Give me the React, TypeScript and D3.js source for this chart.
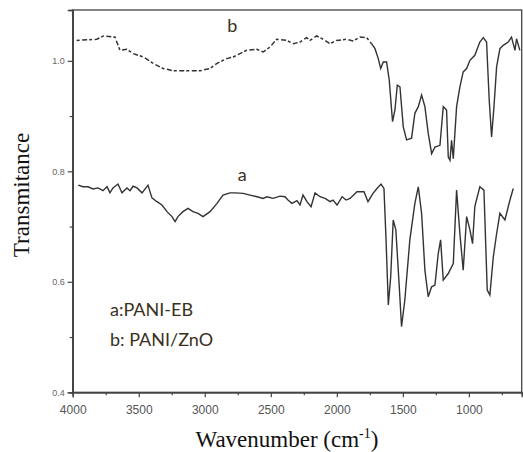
import React, {useRef, useEffect} from 'react'
import * as d3 from 'd3'

// wavenumber (cm-1) and transmittance
const wnB = [3970, 3818, 3768, 3680, 3642, 3591, 3541, 3465, 3389, 3314, 3238, 3137, 3036, 2960, 2910, 2834, 2784, 2683, 2607, 2557, 2506, 2455, 2380, 2330, 2279, 2229, 2203, 2153, 2102, 2052, 2001, 1926, 1875, 1825, 1774, 1737, 1711, 1686, 1668, 1648, 1623, 1603, 1578, 1560, 1542, 1522, 1497, 1472, 1434, 1409, 1383, 1358, 1333, 1308, 1282, 1257, 1219, 1194, 1169, 1156, 1143, 1131, 1118, 1093, 1068, 1043, 1017, 992, 955, 917, 891, 866, 846, 828, 810, 790, 765, 740, 702, 677, 651, 639, 614]
const valB = [1.037, 1.039, 1.045, 1.043, 1.019, 1.021, 1.013, 1.007, 0.995, 0.986, 0.982, 0.982, 0.982, 0.986, 0.995, 1.004, 1.007, 1.019, 1.021, 1.016, 1.025, 1.039, 1.037, 1.031, 1.034, 1.042, 1.037, 1.045, 1.039, 1.031, 1.037, 1.039, 1.036, 1.043, 1.042, 1.031, 1.022, 1.004, 0.986, 0.998, 0.998, 0.965, 0.89, 0.911, 0.956, 0.953, 0.881, 0.857, 0.86, 0.905, 0.917, 0.938, 0.917, 0.869, 0.832, 0.844, 0.847, 0.917, 0.911, 0.826, 0.82, 0.856, 0.823, 0.917, 0.953, 0.98, 0.986, 1.001, 1.01, 1.034, 1.042, 1.034, 0.929, 0.862, 0.917, 0.989, 1.022, 1.028, 1.034, 1.043, 1.019, 1.04, 1.019]

const wnA = [3958, 3922, 3884, 3846, 3808, 3771, 3740, 3718, 3695, 3657, 3627, 3589, 3566, 3543, 3513, 3475, 3430, 3400, 3362, 3324, 3286, 3248, 3225, 3203, 3165, 3127, 3089, 3051, 3013, 2960, 2907, 2862, 2809, 2771, 2710, 2657, 2604, 2559, 2529, 2483, 2430, 2392, 2370, 2340, 2302, 2279, 2256, 2226, 2195, 2165, 2127, 2089, 2051, 2029, 1998, 1960, 1930, 1900, 1847, 1794, 1764, 1726, 1696, 1665, 1643, 1628, 1610, 1592, 1573, 1553, 1527, 1510, 1485, 1447, 1409, 1383, 1358, 1333, 1308, 1282, 1257, 1232, 1214, 1194, 1156, 1118, 1093, 1068, 1043, 1017, 992, 972, 955, 917, 886, 861, 841, 815, 790, 765, 727, 689, 664]
const valA = [0.775, 0.772, 0.772, 0.768, 0.77, 0.765, 0.772, 0.761, 0.77, 0.777, 0.761, 0.77, 0.765, 0.773, 0.77, 0.761, 0.775, 0.752, 0.745, 0.739, 0.727, 0.718, 0.709, 0.718, 0.727, 0.733, 0.727, 0.724, 0.718, 0.727, 0.742, 0.757, 0.761, 0.761, 0.76, 0.757, 0.754, 0.751, 0.754, 0.751, 0.755, 0.754, 0.748, 0.742, 0.747, 0.739, 0.757, 0.745, 0.736, 0.761, 0.754, 0.751, 0.745, 0.748, 0.739, 0.754, 0.748, 0.751, 0.763, 0.763, 0.745, 0.76, 0.769, 0.777, 0.769, 0.681, 0.558, 0.609, 0.712, 0.694, 0.591, 0.519, 0.567, 0.676, 0.742, 0.772, 0.724, 0.621, 0.573, 0.591, 0.594, 0.651, 0.676, 0.603, 0.615, 0.633, 0.766, 0.687, 0.621, 0.718, 0.694, 0.669, 0.736, 0.772, 0.766, 0.585, 0.576, 0.645, 0.687, 0.724, 0.712, 0.748, 0.769]

const xTicks = [4000, 3500, 3000, 2500, 2000, 1500, 1000]
const xMinor = [3750, 3250, 2750, 2250, 1750, 1250, 750]
const yTicks = [0.4, 0.6, 0.8, 1.0]
const yMinor = [0.5, 0.7, 0.9]
const legendLines = ['a:PANI-EB', 'b: PANI/ZnO']

const W = 523
const H = 452
const left = 72.7
const right = 521.7
const top = 10
const bottom = 392.3

export default function App() {
  const ref = useRef(null)

  useEffect(() => {
    const svg = d3.select(ref.current)
    svg.selectAll('*').remove()

    const x = d3.scaleLinear().domain([4000, 600]).range([left, right])
    const y = d3.scaleLinear().domain([0.4, 1.092]).range([bottom, top])

    const line = d3
      .line<[number, number]>()
      .x(d => x(d[0]))
      .y(d => y(d[1]))

    const ptsA = wnA.map((w, i) => [w, valA[i]] as [number, number])
    const ptsB = wnB.map((w, i) => [w, valB[i]] as [number, number])
    const bDot = ptsB.filter(d => d[0] >= 1737)
    const bSolid = ptsB.filter(d => d[0] <= 1737)

    svg
      .append('path')
      .datum(ptsA)
      .attr('d', line)
      .attr('fill', 'none')
      .attr('stroke', '#333')
      .attr('stroke-width', 1.4)

    svg
      .append('path')
      .datum(bDot)
      .attr('d', line)
      .attr('fill', 'none')
      .attr('stroke', '#333')
      .attr('stroke-width', 1.5)
      .attr('stroke-dasharray', '3 2.5 5 2')

    svg
      .append('path')
      .datum(bSolid)
      .attr('d', line)
      .attr('fill', 'none')
      .attr('stroke', '#333')
      .attr('stroke-width', 1.4)

    // frame
    svg
      .append('rect')
      .attr('x', left)
      .attr('y', top)
      .attr('width', right - left)
      .attr('height', bottom - top)
      .attr('fill', 'none')
      .attr('stroke', '#444')
      .attr('stroke-width', 1.3)

    const xAxis = svg
      .append('g')
      .attr('transform', `translate(0,${bottom})`)
      .call(d3.axisBottom(x).tickValues(xTicks).tickSize(5).tickFormat(d3.format('d')))
    xAxis
      .append('g')
      .call(d3.axisBottom(x).tickValues(xMinor).tickSize(3).tickFormat(() => ''))

    const yAxis = svg
      .append('g')
      .attr('transform', `translate(${left},0)`)
      .call(d3.axisLeft(y).tickValues(yTicks).tickSize(5).tickFormat(d3.format('.1f')))
    yAxis
      .append('g')
      .call(d3.axisLeft(y).tickValues(yMinor).tickSize(3).tickFormat(() => ''))

    svg.selectAll('.domain').attr('stroke', '#444').attr('stroke-width', 1.3)
    svg.selectAll('.tick line').attr('stroke', '#444').attr('stroke-width', 1.2)
    svg
      .selectAll('.tick text')
      .attr('fill', '#666')
      .attr('font-family', 'Liberation Sans, Arial, sans-serif')
      .attr('font-size', 9)
    xAxis
      .selectAll('.tick text')
      .attr('font-size', 12)
      .attr('fill', '#555')
      .attr('y', 13)
      .attr('dy', '0.71em')

    // curve labels
    svg
      .append('text')
      .attr('x', x(2830))
      .attr('y', y(1.053))
      .attr('font-family', 'Lato, sans-serif')
      .attr('font-size', 18)
      .attr('fill', '#3a3020')
      .text('b')
    svg
      .append('text')
      .attr('x', x(2750))
      .attr('y', y(0.782))
      .attr('font-family', 'Lato, sans-serif')
      .attr('font-size', 18)
      .attr('fill', '#3a3020')
      .text('a')

    svg
      .append('g')
      .selectAll('text')
      .data(legendLines)
      .join('text')
      .attr('x', 110)
      .attr('y', (d, i) => 316 + i * 30)
      .attr('font-family', 'Lato, sans-serif')
      .attr('font-size', 18)
      .attr('fill', '#3a3020')
      .text(d => d)

    // axis titles
    const xt = svg
      .append('text')
      .attr('x', 287)
      .attr('y', 447)
      .attr('text-anchor', 'middle')
      .attr('font-family', 'Liberation Serif, Times New Roman, serif')
      .attr('font-size', 23)
      .attr('fill', '#111')
    xt.append('tspan').text('Wavenumber (cm')
    xt.append('tspan').attr('dy', -9).attr('font-size', 14).text('-1')
    xt.append('tspan').attr('dy', 9).text(')')

    svg
      .append('text')
      .attr('transform', `translate(29,195) rotate(-90)`)
      .attr('text-anchor', 'middle')
      .attr('font-family', 'Liberation Serif, Times New Roman, serif')
      .attr('font-size', 23)
      .attr('fill', '#111')
      .text('Transmitance')
  }, [])

  return (
    <svg
      ref={ref}
      width={W}
      height={H}
      style={{position: 'absolute', left: 0, top: 0, background: '#fff'}}
    />
  )
}
